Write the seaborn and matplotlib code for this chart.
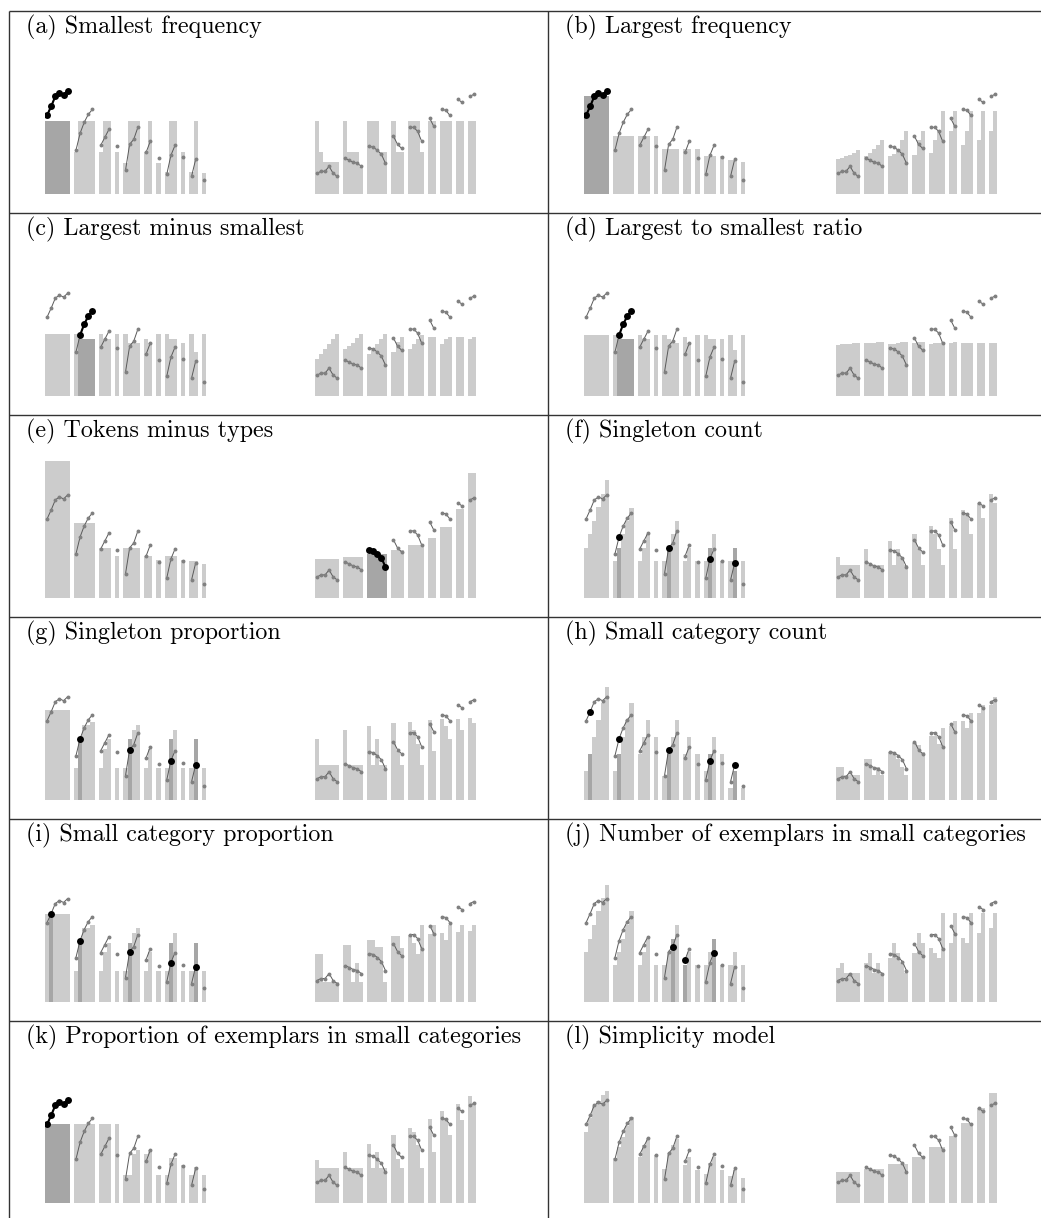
from __future__ import annotations

import matplotlib

matplotlib.use("Agg")

import matplotlib.pyplot as plt
import pandas as pd
import seaborn as sns

# group sizes (number of bars per category structure)
LEFT_SIZES = [6, 5, 3, 1, 4, 2, 1, 3, 1, 2, 1]
RIGHT_SIZES = [6, 5, 5, 3, 4, 2, 3, 2, 2]

# human data, same in every panel
HUMAN_LEFT = [79, 88, 98, 101, 99, 103, 44, 61, 72, 80, 85, 49, 57, 65, 48,
              24, 50, 55, 67, 42, 53, 36, 20, 39, 49, 37, 18, 35, 14]
HUMAN_RIGHT = [21, 23, 23, 28, 21, 18, 36, 34, 32, 31, 28, 48, 47, 44, 40, 31,
               58, 50, 46, 67, 67, 63, 53, 76, 68, 85, 84, 79, 95, 92, 98, 100]

TITLES = [
    "(a) Smallest frequency", "(b) Largest frequency",
    "(c) Largest minus smallest", "(d) Largest to smallest ratio",
    "(e) Tokens minus types", "(f) Singleton count",
    "(g) Singleton proportion", "(h) Small category count",
    "(i) Small category proportion", "(j) Number of exemplars in small categories",
    "(k) Proportion of exemplars in small categories", "(l) Simplicity model",
]

# model predictions (bar heights)
A_LEFT = [73, 73, 73, 73, 73, 73, 42, 73, 73, 73, 73, 42, 73, 73, 42,
          31, 73, 73, 73, 42, 73, 31, 22, 73, 73, 42, 22, 73, 21]
A_RIGHT = [73, 42, 32, 32, 32, 32, 73, 42, 42, 42, 27, 73, 73, 73, 42, 42,
           73, 42, 42, 73, 73, 73, 42, 73, 73, 73, 73, 73, 73, 73, 73, 73]
B_LEFT = [98, 98, 98, 98, 98, 98, 58, 58, 58, 58, 58, 58, 58, 58, 58,
          45, 45, 45, 45, 45, 45, 45, 38, 38, 38, 38, 34, 34, 32]
B_RIGHT = [35, 36, 38, 39, 41, 44, 38, 41, 45, 49, 54, 38, 40, 45, 54, 63,
           39, 54, 63, 41, 54, 63, 83, 63, 83, 49, 63, 83, 54, 83, 63, 83]
C_LEFT = [62, 62, 62, 62, 62, 62, 62, 57, 57, 57, 57, 62, 57, 57, 62,
          62, 53, 53, 53, 57, 53, 62, 62, 57, 57, 53, 62, 44, 62]
C_RIGHT = [37, 42, 47, 52, 57, 62, 47, 50, 53, 58, 62, 42, 47, 52, 57, 62,
           44, 54, 59, 47, 52, 57, 61, 59, 59, 52, 57, 59, 59, 59, 57, 59]
D_LEFT = [61, 61, 61, 61, 61, 61, 61, 57, 57, 57, 57, 61, 57, 57, 61,
          61, 57, 53, 53, 59, 53, 61, 61, 57, 57, 57, 61, 46, 61]
D_RIGHT = [51, 52, 52, 52, 53, 53, 53, 53, 53, 54, 54, 52, 52, 53, 54, 54,
           53, 54, 54, 52, 53, 53, 54, 53, 54, 53, 53, 53, 53, 53, 53, 53]
E_LEFT = [137, 137, 137, 137, 137, 137, 75, 75, 75, 75, 75, 50, 50, 50, 42,
          50, 50, 50, 50, 42, 42, 38, 42, 42, 42, 38, 37, 37, 34]
E_RIGHT = [39, 39, 39, 39, 39, 39, 41, 41, 41, 41, 41, 44, 44, 44, 44, 44,
           48, 48, 48, 53, 53, 53, 53, 60, 60, 71, 71, 71, 89, 89, 125, 125]
F_LEFT = [50, 64, 77, 91, 104, 118, 37, 50, 64, 77, 90, 37, 50, 64, 37,
          37, 50, 64, 77, 37, 50, 37, 37, 50, 64, 37, 37, 50, 37]
F_RIGHT = [41, 33, 33, 33, 33, 33, 49, 33, 33, 33, 33, 57, 33, 49, 41, 33,
           64, 49, 33, 72, 64, 49, 33, 80, 49, 88, 84, 64, 95, 80, 104, 95]
G_LEFT = [90, 90, 90, 90, 90, 90, 32, 61, 75, 75, 78, 32, 51, 61, 32,
          32, 61, 70, 75, 32, 51, 32, 32, 61, 70, 32, 32, 61, 32]
G_RIGHT = [61, 35, 35, 35, 35, 35, 70, 35, 35, 35, 35, 74, 35, 61, 35, 35,
           77, 49, 35, 78, 70, 56, 35, 80, 49, 81, 74, 61, 81, 70, 82, 77]
H_LEFT = [29, 46, 63, 80, 97, 113, 29, 46, 63, 80, 97, 46, 63, 80, 63,
          24, 46, 63, 80, 46, 63, 46, 29, 46, 63, 46, 12, 29, 12]
H_RIGHT = [33, 33, 25, 25, 25, 25, 41, 41, 25, 33, 25, 48, 48, 41, 33, 25,
           57, 55, 48, 64, 64, 56, 72, 74, 79, 79, 72, 87, 87, 95, 95, 103]
I_LEFT = [88, 88, 88, 88, 88, 88, 31, 62, 74, 74, 77, 31, 50, 59, 31,
          31, 59, 69, 74, 31, 50, 31, 31, 59, 69, 31, 31, 59, 31]
I_RIGHT = [48, 48, 20, 20, 20, 20, 57, 57, 20, 39, 20, 62, 62, 55, 55, 20,
           66, 66, 54, 67, 59, 48, 77, 68, 77, 69, 62, 77, 70, 77, 71, 77]
J_LEFT = [50, 63, 77, 91, 104, 117, 37, 50, 63, 77, 91, 37, 50, 63, 37,
          37, 50, 63, 77, 37, 50, 37, 37, 50, 63, 37, 37, 50, 37]
J_RIGHT = [34, 39, 29, 29, 29, 29, 39, 49, 29, 39, 29, 44, 59, 49, 39, 29,
           49, 69, 59, 54, 49, 44, 89, 59, 89, 64, 59, 89, 69, 89, 74, 89]
K_LEFT = [79, 79, 79, 79, 79, 79, 79, 79, 79, 79, 79, 79, 79, 79, 79,
          28, 28, 49, 53, 49, 53, 28, 28, 45, 45, 38, 28, 36, 28]
K_RIGHT = [43, 35, 35, 35, 35, 35, 51, 35, 35, 35, 35, 59, 35, 51, 35, 35,
           68, 44, 35, 75, 71, 58, 35, 84, 51, 92, 85, 68, 99, 83, 107, 99]
L_LEFT = [71, 85, 97, 102, 108, 112, 45, 56, 66, 77, 86, 46, 58, 65, 48,
          34, 50, 58, 64, 38, 46, 33, 29, 40, 46, 33, 27, 33, 25]
L_RIGHT = [31, 31, 31, 31, 31, 31, 34, 34, 34, 34, 34, 39, 39, 39, 39, 39,
           46, 46, 46, 56, 56, 56, 56, 67, 67, 80, 80, 80, 95, 95, 110, 110]

# highlighted bars (index within each half)
DARK_LEFT = [
    [0, 1, 2, 3, 4, 5], [0, 1, 2, 3, 4, 5], [7, 8, 9, 10], [7, 8, 9, 10],
    [], [7, 16, 23, 27], [7, 16, 23, 27], [1, 7, 16, 23, 27],
    [1, 7, 16, 23, 27], [17, 19, 24], [0, 1, 2, 3, 4, 5], [],
]
DARK_RIGHT = [[], [], [], [], [11, 12, 13, 14, 15], [], [], [], [], [], [], []]

LIGHT = "#cccccc"
DARK = "#a6a6a6"
LINE = "#5a5a5a"
FRAME = "#333333"

FIG_W, FIG_H = 1041, 1218
AX_H = 150


def setup_style() -> None:
    sns.set_theme(style="white")
    plt.rcParams["font.family"] = ["cmr10", "DejaVu Serif"]


def half_frame(sizes: list[int], heights: list[float], human: list[float], dark: list[int]) -> pd.DataFrame:
    rows = []
    index = 0
    for group, size in enumerate(sizes):
        for _ in range(size):
            rows.append({
                "pos": index + group,
                "group": group,
                "height": heights[index],
                "human": human[index],
                "shade": "dark" if index in dark else "light",
            })
            index += 1
    return pd.DataFrame(rows)


def draw_half(ax, data: pd.DataFrame, n_units: int) -> None:
    sns.barplot(data=data, x="pos", y="height", hue="shade", hue_order=["light", "dark"],
                palette={"light": LIGHT, "dark": DARK}, native_scale=True, width=1,
                dodge=False, saturation=1, errorbar=None, legend=False, linewidth=0, ax=ax)
    sns.lineplot(data=data, x="pos", y="human", units="group", estimator=None, color=LINE,
                 marker="o", markersize=2.8, markeredgewidth=0, markerfacecolor="#808080",
                 linewidth=0.7, legend=False, ax=ax)
    picked = data[data["shade"] == "dark"]
    if len(picked):
        sns.lineplot(data=picked, x="pos", y="human", units="group", estimator=None,
                     color="black", marker="o", markersize=5, markeredgewidth=0,
                     linewidth=1.5, legend=False, ax=ax)
    ax.set_xlim(-0.5, n_units - 0.5)
    ax.set_ylim(0, AX_H)
    ax.set_axis_off()


def main() -> int:
    setup_style()
    fig = plt.figure(figsize=(FIG_W / 100, FIG_H / 100), dpi=100)

    bg = fig.add_axes([0, 0, 1, 1])
    bg.set_xlim(0, FIG_W)
    bg.set_ylim(FIG_H, 0)
    bg.set_axis_off()
    row_lines = [11 + 202 * k for k in range(6)]
    bg.hlines(row_lines, 8.5, FIG_W, color=FRAME, linewidth=1.0)
    bg.vlines([8.5, 548], 11, FIG_H, color=FRAME, linewidth=1.0)

    lefts = [A_LEFT, B_LEFT, C_LEFT, D_LEFT, E_LEFT, F_LEFT, G_LEFT, H_LEFT, I_LEFT, J_LEFT, K_LEFT, L_LEFT]
    rights = [A_RIGHT, B_RIGHT, C_RIGHT, D_RIGHT, E_RIGHT, F_RIGHT, G_RIGHT, H_RIGHT, I_RIGHT, J_RIGHT, K_RIGHT, L_RIGHT]
    half_x = {0: (45, 315), 1: (584, 836)}
    title_x = {0: 25.5, 1: 565}

    for panel in range(12):
        row, col = divmod(panel, 2)
        base = 194.3 + 201.8 * row
        bg.text(title_x[col], row_lines[row] + 22, TITLES[panel], fontsize=17.3, va="baseline", color="black")

        left_data = half_frame(LEFT_SIZES, lefts[panel], HUMAN_LEFT, DARK_LEFT[panel])
        right_data = half_frame(RIGHT_SIZES, rights[panel], HUMAN_RIGHT, DARK_RIGHT[panel])
        for x0, data, sizes in ((half_x[col][0], left_data, LEFT_SIZES), (half_x[col][1], right_data, RIGHT_SIZES)):
            ax = fig.add_axes([x0 / FIG_W, (FIG_H - base) / FIG_H, 161 / FIG_W, AX_H / FIG_H])
            ax.patch.set_alpha(0)
            draw_half(ax, data, sum(sizes) + len(sizes) - 1)

    fig.savefig("out.png", dpi=100)
    plt.close(fig)
    return 0


if __name__ == "__main__":
    raise SystemExit(main())
